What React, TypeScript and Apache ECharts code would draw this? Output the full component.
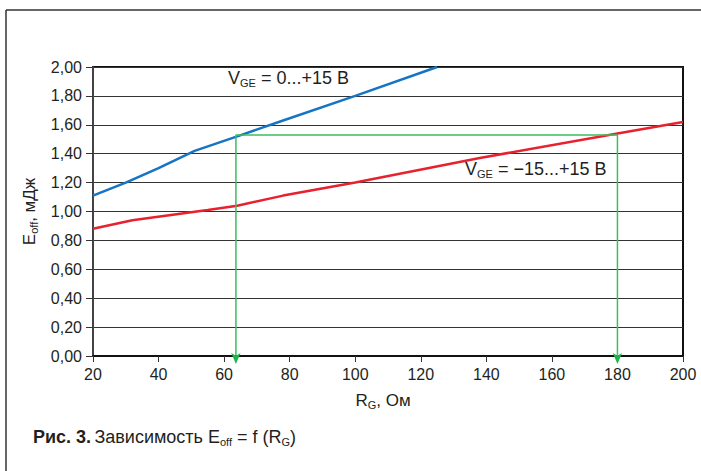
import React, { useEffect, useRef } from "react";
import * as echarts from "echarts";

// Data
const rgBlue = [20, 30, 40, 51, 64, 78, 100, 125];
const eBlue = [1.11, 1.2, 1.3, 1.42, 1.52, 1.63, 1.8, 2.0];
const rgRed = [20, 32, 55, 64, 78, 100, 138, 180, 200];
const eRed = [0.88, 0.94, 1.01, 1.04, 1.11, 1.2, 1.37, 1.54, 1.62];
const guideX = [63.6, 180];
const guideY = 1.53;

const xMin = 20;
const xMax = 200;
const xStep = 20;
const yMin = 0;
const yMax = 2;
const yStep = 0.2;

const FONT = "'Liberation Sans', Arial, sans-serif";
const TXT = "#231f20";

export default function App() {
  const ref = useRef<HTMLDivElement>(null);
  useEffect(() => {
    const chart = echarts.init(ref.current!, null, { renderer: "svg" });
    const blueData = rgBlue.map((x, i) => [x, eBlue[i]]);
    const redData = rgRed.map((x, i) => [x, eRed[i]]);
    const arrowPt = (x: number, y: number) => ({
      value: [x, y],
      symbol: "arrow",
      symbolSize: [7, 11],
      symbolRotate: 180,
      symbolOffset: [0, 8],
    });
    const greenData = [
      arrowPt(guideX[0], yMin),
      { value: [guideX[0], guideY], symbol: "none" },
      { value: [guideX[1], guideY], symbol: "none" },
      arrowPt(guideX[1], yMin),
    ];
    const sub = { fontSize: 11, fill: TXT, fontFamily: FONT, verticalAlign: "bottom", lineHeight: 12 };
    const option: any = {
      animation: false,
      backgroundColor: "#ffffff",
      grid: {
        left: 93,
        right: 18,
        top: 67,
        bottom: 115,
        show: true,
        borderColor: "#111",
        borderWidth: 2,
        backgroundColor: "transparent",
      },
      xAxis: {
        type: "value",
        min: xMin,
        max: xMax,
        interval: xStep,
        name: "{a|R}{s|G}{a|, Ом}",
        nameLocation: "middle",
        nameGap: 34,
        nameTextStyle: {
          padding: [0, 10, 0, 0],
          rich: {
            a: { fontSize: 17, color: TXT, fontFamily: FONT, lineHeight: 20 },
            s: { fontSize: 11, color: TXT, fontFamily: FONT, verticalAlign: "bottom", lineHeight: 12 },
          },
        },
        axisLine: { show: true, lineStyle: { color: "#111", width: 2 } },
        axisTick: { show: true, length: 6, lineStyle: { color: "#333", width: 1 } },
        axisLabel: { fontSize: 16, color: TXT, fontFamily: FONT, margin: 10 },
        splitLine: { show: false },
      },
      yAxis: {
        type: "value",
        min: yMin,
        max: yMax,
        interval: yStep,
        name: "{a|E}{s|off}{a|, мДж}",
        nameLocation: "middle",
        nameGap: 50,
        nameTextStyle: {
          rich: {
            a: { fontSize: 17, color: TXT, fontFamily: FONT, lineHeight: 20 },
            s: { fontSize: 11, color: TXT, fontFamily: FONT, verticalAlign: "bottom", lineHeight: 12 },
          },
        },
        axisLine: { show: true, lineStyle: { color: "#555", width: 1.5 } },
        axisTick: { show: true, length: 7, lineStyle: { color: "#333", width: 1 } },
        axisLabel: {
          fontSize: 16,
          color: TXT,
          fontFamily: FONT,
          margin: 11,
          formatter: (v: number) => v.toFixed(2).replace(".", ","),
        },
        splitLine: { show: true, lineStyle: { color: "#333", width: 1 } },
      },
      series: [
        {
          type: "line",
          data: blueData,
          showSymbol: false,
          smooth: false,
          lineStyle: { color: "#1574c4", width: 2.5 },
          z: 3,
        },
        {
          type: "line",
          data: redData,
          showSymbol: false,
          lineStyle: { color: "#e8212e", width: 2.5 },
          z: 3,
        },
        {
          type: "line",
          data: greenData,
          showSymbol: true,
          clip: false,
          itemStyle: { color: "#1db64a" },
          lineStyle: { color: "#3cbf5e", width: 1.5 },
          z: 4,
        },
      ],
      graphic: [
        {
          type: "line",
          shape: { x1: 6, y1: 10, x2: 701, y2: 10 },
          style: { stroke: "#333", lineWidth: 1.5 },
        },
        {
          type: "line",
          shape: { x1: 6, y1: 10, x2: 6, y2: 471 },
          style: { stroke: "#333", lineWidth: 1.5 },
        },
        {
          type: "text",
          left: 228,
          top: 69,
          style: {
            text: "{v|V}{s|GE}{v| = 0...+15 В}",
            rich: {
              v: { fontSize: 18, fill: TXT, fontFamily: FONT, lineHeight: 21 },
              s: sub,
            },
          },
        },
        {
          type: "text",
          left: 465,
          top: 160,
          style: {
            text: "{v|V}{s|GE}{v| = −15...+15 В}",
            rich: {
              v: { fontSize: 18, fill: TXT, fontFamily: FONT, lineHeight: 21 },
              s: sub,
            },
          },
        },
        {
          type: "text",
          left: 33,
          top: 428,
          style: {
            text: "{b|Рис. 3.} {v|Зависимость E}{s|off}{v| = f (R}{s|G}{v|)}",
            rich: {
              b: { fontSize: 18, fill: TXT, fontFamily: FONT, fontWeight: "bold", lineHeight: 21 },
              v: { fontSize: 18, fill: TXT, fontFamily: FONT, lineHeight: 21 },
              s: sub,
            },
          },
        },
      ],
    };
    chart.setOption(option);
    return () => chart.dispose();
  }, []);
  return (
    <div
      ref={ref}
      style={{ position: "fixed", left: 0, top: 0, width: 701, height: 471 }}
    />
  );
}
